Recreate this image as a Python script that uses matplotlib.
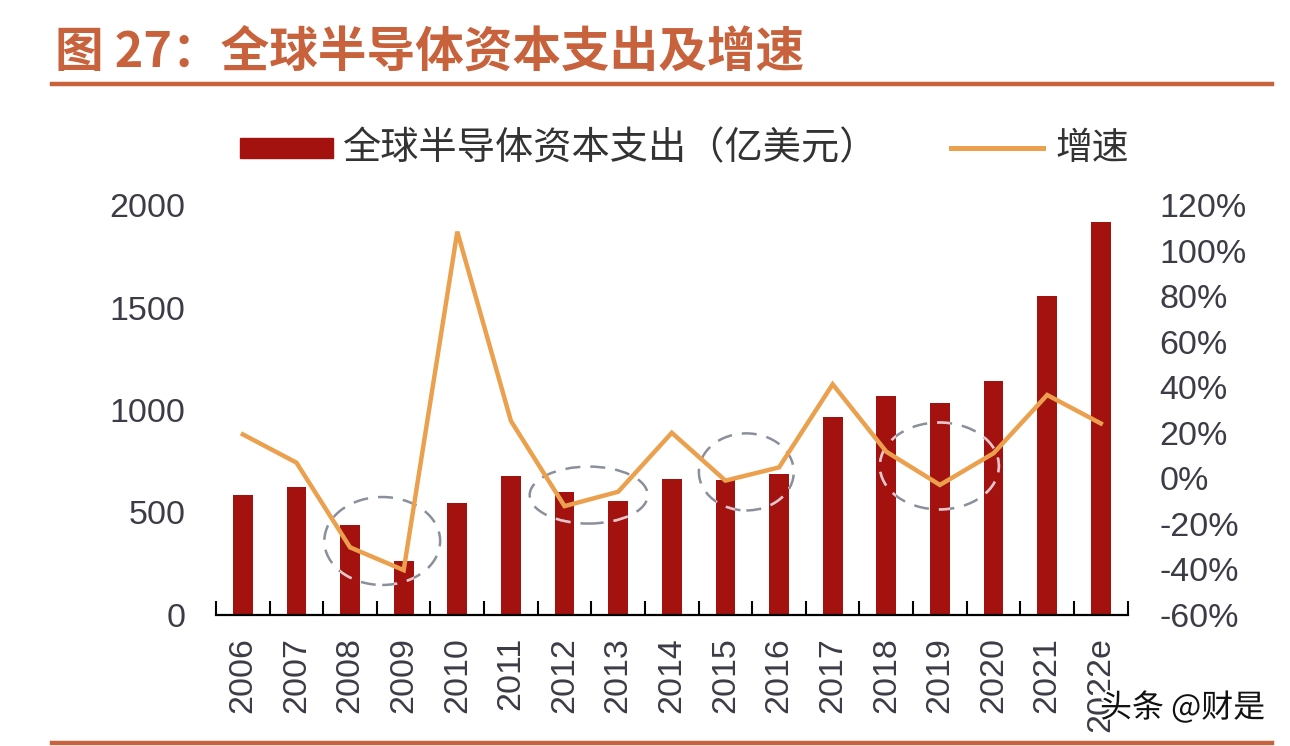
import matplotlib
matplotlib.use('Agg')
import matplotlib.pyplot as plt
from matplotlib.patches import Ellipse, Rectangle
from matplotlib.lines import Line2D
from matplotlib.ticker import FixedLocator
import matplotlib.patheffects as pe

plt.rcParams['font.family'] = ['Liberation Sans', 'Noto Sans CJK SC', 'DejaVu Sans']

# ---------------- data ----------------
years = ['2006', '2007', '2008', '2009', '2010', '2011', '2012', '2013', '2014',
         '2015', '2016', '2017', '2018', '2019', '2020', '2021', '2022e']
capex = [585, 626, 439, 265, 548, 680, 598, 556, 665, 658, 686, 967, 1070,
         1036, 1143, 1558, 1917]
growth = [19.3, 6.9, -30.3, -40.3, 108.3, 25.2, -12.2, -5.9, 20.0, -1.0, 4.8,
          41.3, 11.7, -2.9, 11.0, 36.6, 24.1]
left_ticks = [0, 500, 1000, 1500, 2000]
right_ticks = [-60, -40, -20, 0, 20, 40, 60, 80, 100, 120]

# highlight ellipses (category-index x, left-axis y)
ell_x = [2.60, 6.45, 9.39, 12.99]
ell_y = [361, 585, 698, 727]
ell_w = [2.16, 2.20, 1.77, 2.22]
ell_h = [429, 278, 376, 424]

title = '图 27：全球半导体资本支出及增速'
bar_label = '全球半导体资本支出（亿美元）'
line_label = '增速'
watermark = '头条 @财是'

# ---------------- style ----------------
W, H = 1290, 746
bar_color = '#A3120F'
line_color = '#EBA04E'
title_color = '#C8623C'
tick_color = '#3C3C46'
cjk = ['Noto Sans CJK SC', 'DejaVu Sans']

fig = plt.figure(figsize=(W / 100, H / 100), dpi=100)
fig.patch.set_facecolor('white')

x0, x1 = 216, 1127.6
y_bot, y_top = 615, 205
ax = fig.add_axes([x0 / W, 1 - y_bot / H, (x1 - x0) / W, (y_bot - y_top) / H])
ax.set_facecolor('none')

xs = list(range(len(years)))
bars = ax.bar(xs, capex, width=0.37, color=bar_color, zorder=2)
ax.set_xlim(-0.5, len(years) - 0.5)
ax.set_ylim(0, 2000)

ax.set_xticks(xs)
ax.set_xticklabels(years, rotation=90, fontsize=24.5, color=tick_color)
ax.xaxis.set_minor_locator(FixedLocator([i - 0.5 for i in range(len(years) + 1)]))
ax.tick_params(axis='x', which='major', length=0, pad=16)
ax.tick_params(axis='x', which='minor', length=10, width=1.5, direction='in', color='black')
ax.set_yticks(left_ticks)
ax.set_yticklabels([str(v) for v in left_ticks], fontsize=24.5, color=tick_color)
ax.tick_params(axis='y', length=0, pad=22)
for s in ['left', 'right', 'top']:
    ax.spines[s].set_visible(False)
ax.spines['bottom'].set_linewidth(1.6)
ax.spines['bottom'].set_color('black')

# dashed ellipses
for cx, cy, ew, eh in zip(ell_x, ell_y, ell_w, ell_h):
    e = Ellipse((cx, cy), ew, eh, fill=False, edgecolor='#8A8F9C', lw=1.8,
                linestyle=(0, (6, 4)), zorder=3)
    ax.add_patch(e)
    for b in bars:
        e2 = Ellipse((cx, cy), ew, eh, fill=False, edgecolor='#E9C3C8', lw=1.8,
                     linestyle=(0, (6, 4)), zorder=3.5)
        ax.add_patch(e2)
        e2.set_clip_path(b)

ax2 = ax.twinx()
ax2.plot(xs, growth, color=line_color, lw=3.2, solid_joinstyle='miter', zorder=4)
ax2.set_ylim(-60, 120)
ax2.set_yticks(right_ticks)
ax2.set_yticklabels([f'{v}%' for v in right_ticks], fontsize=24.5, color=tick_color)
ax2.tick_params(axis='y', length=0, pad=23)
for s in ['left', 'right', 'top', 'bottom']:
    ax2.spines[s].set_visible(False)

# title & rules
fig.text(55 / W, 1 - 52 / H, title, fontsize=35, fontweight='bold',
         color=title_color, va='center', ha='left', family=cjk)
fig.add_artist(Line2D([52 / W, 1272 / W], [1 - 84 / H, 1 - 84 / H],
                      color=title_color, lw=3.2, transform=fig.transFigure))
fig.add_artist(Line2D([52 / W, 1272 / W], [1 - 743 / H, 1 - 743 / H],
                      color=title_color, lw=3.2, transform=fig.transFigure))

# legend (manual)
fig.add_artist(Rectangle((240 / W, 1 - 158 / H), 93 / W, 20 / H, color=bar_color,
                         transform=fig.transFigure))
fig.text(343 / W, 1 - 149 / H, bar_label, fontsize=27.5, color='#333333',
         va='center', ha='left', family=cjk)
fig.add_artist(Line2D([951 / W, 1043 / W], [1 - 148 / H, 1 - 148 / H],
                      color=line_color, lw=3.6, transform=fig.transFigure))
fig.text(1055 / W, 1 - 149 / H, line_label, fontsize=26.5, color='#333333',
         va='center', ha='left', family=cjk)

# watermark (overlaps the last tick label, as in the reference)
fig.text(1100 / W, 1 - 708 / H, watermark, fontsize=23, color='#111111',
         va='center', ha='left', family=cjk,
         path_effects=[pe.withStroke(linewidth=3, foreground='white')])

fig.savefig('out.png', dpi=100, facecolor='white')
